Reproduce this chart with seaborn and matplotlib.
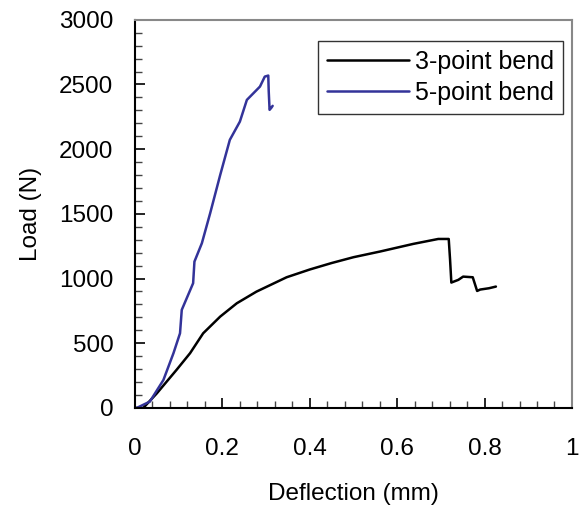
import pandas as pd
import matplotlib.pyplot as plt
import seaborn as sns
from matplotlib.ticker import MultipleLocator

# 3-point bend
defl_3pt = [0.0, 0.019, 0.05, 0.095, 0.126, 0.156, 0.195, 0.233, 0.278, 0.347, 0.40, 0.45,
            0.50, 0.561, 0.637, 0.694, 0.718, 0.721, 0.724, 0.74, 0.751, 0.773, 0.783, 0.79, 0.81, 0.826]
load_3pt = [0, 0, 113, 294, 423, 577, 706, 809, 899, 1010, 1070, 1120,
            1165, 1209, 1268, 1306, 1306, 1150, 969, 990, 1015, 1010, 904, 915, 925, 938]

# 5-point bend
defl_5pt = [0.0, 0.004, 0.034, 0.065, 0.088, 0.103, 0.107, 0.133, 0.136, 0.153, 0.172, 0.195,
            0.217, 0.240, 0.256, 0.286, 0.297, 0.305, 0.306, 0.308, 0.312, 0.315]
load_5pt = [0, 0, 49, 216, 423, 577, 758, 964, 1131, 1273, 1505, 1801,
            2072, 2213, 2381, 2484, 2561, 2569, 2450, 2304, 2320, 2335]

labels = ['3-point bend', '5-point bend']
xticklabels = ['0', '0.2', '0.4', '0.6', '0.8', '1']

df3 = pd.DataFrame({'Deflection': defl_3pt, 'Load': load_3pt})
df5 = pd.DataFrame({'Deflection': defl_5pt, 'Load': load_5pt})

sns.set_style('white')
plt.rcParams['font.family'] = ['Liberation Sans', 'DejaVu Sans']
plt.rcParams['text.color'] = 'black'
plt.rcParams['axes.labelcolor'] = 'black'
plt.rcParams['xtick.color'] = 'black'
plt.rcParams['ytick.color'] = 'black'

fig = plt.figure(figsize=(5.86, 5.08), dpi=100)
ax = fig.add_axes([0.2304, 0.197, 0.7456, 0.764])

sns.lineplot(data=df3, x='Deflection', y='Load', sort=False, color='black', lw=1.8,
             label=labels[0], ax=ax)
sns.lineplot(data=df5, x='Deflection', y='Load', sort=False, color='#333399', lw=1.8,
             label=labels[1], ax=ax)

ax.set_xlim(0, 1)
ax.set_ylim(0, 3000)
ax.set_xticks([0, 0.2, 0.4, 0.6, 0.8, 1.0])
ax.set_xticklabels(xticklabels)
ax.xaxis.set_minor_locator(MultipleLocator(0.04))
ax.yaxis.set_major_locator(MultipleLocator(500))
ax.yaxis.set_minor_locator(MultipleLocator(100))

ax.tick_params(which='both', bottom=True, left=True, top=False, right=False)
ax.tick_params(which='major', direction='in', length=7, width=1.2, labelsize=17.5, color='black')
ax.tick_params(which='minor', direction='in', length=5, width=1, color='#444444')
ax.tick_params(axis='x', which='major', pad=21.5)
ax.tick_params(axis='y', which='major', pad=15.5)

for s in ['left', 'bottom']:
    ax.spines[s].set_color('black')
    ax.spines[s].set_linewidth(1.5)
for s in ['top', 'right']:
    ax.spines[s].set_color('#888888')
    ax.spines[s].set_linewidth(1.5)

ax.set_xlabel('Deflection (mm)', fontsize=17.5, labelpad=16.5)
ax.set_ylabel('Load (N)', fontsize=17.5, labelpad=12)

leg = ax.legend(loc='upper right', bbox_to_anchor=(0.979, 0.946), fontsize=18, frameon=True,
                fancybox=False, edgecolor='black', handlelength=3.3, handletextpad=0.24,
                borderpad=0.35, labelspacing=0.3, borderaxespad=0)
leg.get_frame().set_linewidth(1.0)

fig.savefig('out.png', dpi=100)
